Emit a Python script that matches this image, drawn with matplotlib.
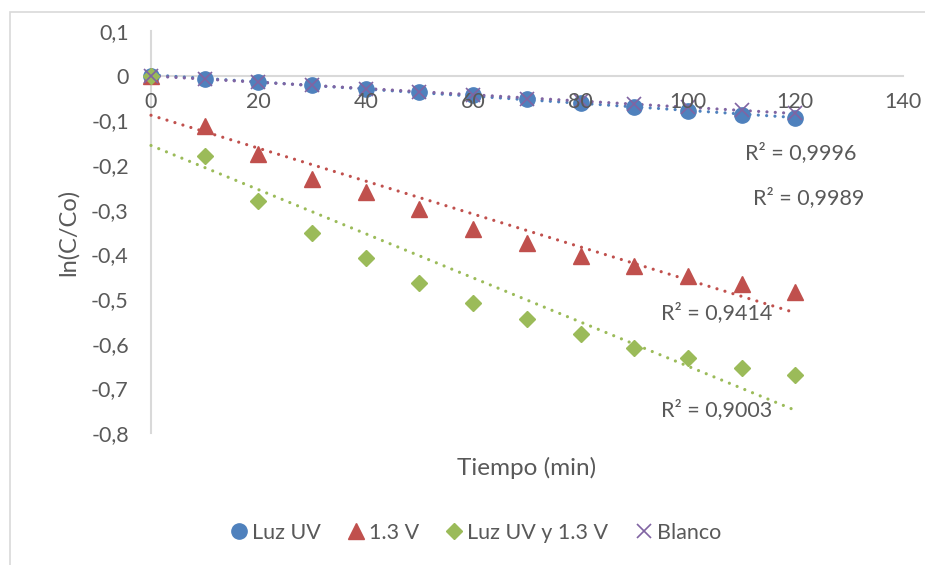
import numpy as np
import matplotlib

matplotlib.use("Agg")
import matplotlib.pyplot as plt
from matplotlib.patches import Rectangle
from matplotlib.ticker import FuncFormatter, MultipleLocator

plt.rcParams["font.family"] = ["Lato", "DejaVu Sans"]

# ---------- datos ----------
tiempo = [0, 10, 20, 30, 40, 50, 60, 70, 80, 90, 100, 110, 120]
luz_uv = [0, -0.007, -0.015, -0.021, -0.029, -0.036, -0.044, -0.053,
          -0.062, -0.070, -0.078, -0.088, -0.094]
v13 = [0, -0.113, -0.176, -0.232, -0.261, -0.298, -0.343, -0.375,
       -0.404, -0.425, -0.449, -0.467, -0.484]
luz_uv_13 = [0, -0.180, -0.280, -0.353, -0.409, -0.465, -0.509, -0.545,
             -0.579, -0.609, -0.631, -0.655, -0.671]
blanco = [0, -0.007, -0.015, -0.021, -0.029, -0.036, -0.044, -0.052,
          -0.057, -0.064, -0.070, -0.077, -0.084]

nombres = ["Luz UV", "1.3 V", "Luz UV y 1.3 V", "Blanco"]
r2_textos = ["R² = 0,9996", "R² = 0,9414", "R² = 0,9003", "R² = 0,9989"]

GRIS_TXT = "#595959"
GRIS_EJE = "#D9D9D9"
colores = ["#4F81BD", "#C0504D", "#9BBB59", "#8064A2"]
marcadores = ["o", "^", "D", "x"]
tamanos = [11, 11.5, 7.8, 10]
# posicion de cada etiqueta R² (en datos)
r2_pos = [(121, -0.173), (105.3, -0.531), (105.3, -0.748), (122.5, -0.272)]

fig = plt.figure(figsize=(9.25, 5.65), dpi=100)
ax = fig.add_axes([151 / 925, 1 - 433 / 565, (902.7 - 151) / 925, (433 - 31) / 565])

series = [luz_uv, v13, luz_uv_13, blanco]
x = np.array(tiempo, dtype=float)

# lineas de tendencia (ajuste lineal), punteadas
for y, c in zip(series, colores):
    m, b = np.polyfit(x, np.array(y), 1)
    xx = np.array([0, 120])
    ax.plot(xx, m * xx + b, color=c, lw=2.3,
            linestyle=(0, (0.01, 2.6)), dash_capstyle="round",
            zorder=3, clip_on=False)

# puntos
handles = []
for y, c, mk, ms, nm in zip(series, colores, marcadores, tamanos, nombres):
    if mk == "x":
        h, = ax.plot(x, y, linestyle="none", marker=mk, ms=ms, color=c,
                     mew=1.2, label=nm, zorder=5, clip_on=False)
    else:
        h, = ax.plot(x, y, linestyle="none", marker=mk, ms=ms, color=c,
                     mec=c, label=nm, zorder=4, clip_on=False)
    handles.append(h)

# etiquetas R²
for txt, (px, py) in zip(r2_textos, r2_pos):
    ax.text(px, py, txt, fontsize=15.5, color=GRIS_TXT,
            ha="center", va="center", zorder=6)

# ---------- ejes ----------
ax.set_xlim(0, 140)
ax.set_ylim(-0.8, 0.1)
ax.xaxis.set_major_locator(MultipleLocator(20))
ax.yaxis.set_major_locator(MultipleLocator(0.1))


def coma(v, pos):
    if abs(v) < 1e-9:
        return "0"
    return f"{v:.1f}".replace(".", ",")


def entero(v, pos):
    return f"{v:.0f}"


ax.yaxis.set_major_formatter(FuncFormatter(coma))
ax.xaxis.set_major_formatter(FuncFormatter(entero))

for s in ["top", "right"]:
    ax.spines[s].set_visible(False)
ax.spines["left"].set_position(("data", 0))
ax.spines["bottom"].set_position(("data", 0))
for s in ["left", "bottom"]:
    ax.spines[s].set_color(GRIS_EJE)
    ax.spines[s].set_linewidth(1.5)
    ax.spines[s].set_zorder(1)

# los numeros del eje X quedan por encima de los marcadores
ax.xaxis.set_zorder(6)
ax.tick_params(axis="x", length=0, pad=12, labelsize=15.5, labelcolor=GRIS_TXT)
ax.tick_params(axis="y", length=0, pad=16, labelsize=15.5, labelcolor=GRIS_TXT)
ax.patch.set_alpha(0)

fig.text(68 / 925, 1 - 232 / 565, "ln(C/Co)", rotation=90, fontsize=17,
         color=GRIS_TXT, ha="center", va="center")
fig.text(527 / 925, 1 - 468 / 565, "Tiempo (min)", fontsize=17.5,
         color=GRIS_TXT, ha="center", va="center")

# leyenda inferior
leg = fig.legend(handles=handles, loc="center", ncol=4,
                 bbox_to_anchor=(476 / 925, 1 - 533 / 565),
                 frameon=False, fontsize=15.5, handlelength=0.7,
                 handletextpad=0.25, columnspacing=1.3, labelcolor=GRIS_TXT)

# borde del area del grafico
fig.patches.append(Rectangle((10 / 925, -0.1), 1.2, 1 - 12 / 565 + 0.1,
                             transform=fig.transFigure, fill=False,
                             edgecolor=GRIS_EJE, lw=1.2))

fig.savefig("out.png", dpi=100, facecolor="white")
